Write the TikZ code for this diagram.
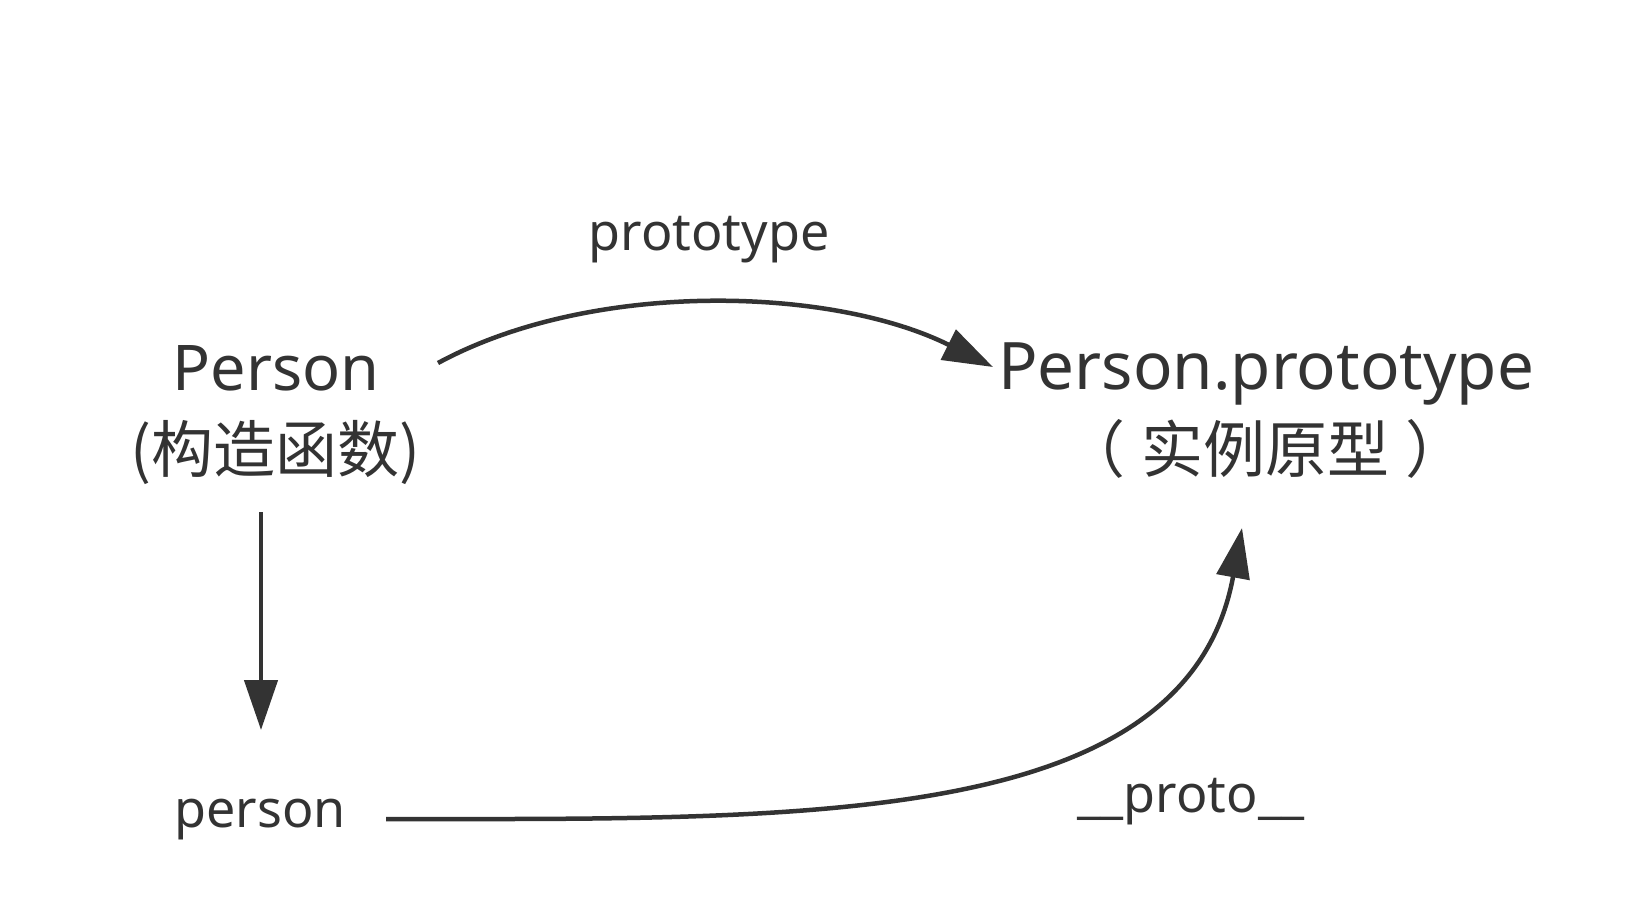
\documentclass[tikz,border=0pt]{standalone}
\usepackage{fontspec}
\setmainfont{Noto Sans}
\newfontfamily\cjk{Noto Sans CJK SC}
\usetikzlibrary{arrows.meta}
\definecolor{ink}{RGB}{51,51,51}
\tikzset{
  lbl/.style={inner sep=0pt, anchor=base, text=ink},
  big/.style={lbl, font=\fontsize{63}{70}\selectfont},
  bigcn/.style={lbl, font=\cjk\fontsize{62}{70}\selectfont},
  small/.style={lbl, font=\fontsize{52}{60}\selectfont},
  conn/.style={draw=ink, line width=4.5pt, -{Triangle[length=50pt,width=33pt]}}
}
\begin{document}
\begin{tikzpicture}[x=1pt,y=-1pt]
\path[use as bounding box, fill=white] (0,0) rectangle (1642,908);
\node[big] (ctor) at (276,390) {Person};
\node[bigcn] (ctorcn) at (275,472) {(构造函数)};
\node[lbl, font=\fontsize{65.5}{70}\selectfont] (proto) at (1266,389) {Person.prototype};
\node[bigcn] (protocn) at (1265,472) {（\hspace{16pt}实例原型\hspace{16pt}）};
\node[small] (inst) at (260,827) {person};
\node[small] (lproto) at (709,250) {prototype};
\node[small] (lunder) at (1191,812) {\_\_proto\_\_};
\draw[conn] ([shift={(162,-27)}]ctor.base) .. controls +(155,-84) and +(-160,-80) .. ([shift={(-273,-22)}]proto.base);
\draw[conn] ([shift={(-14,40)}]ctorcn.base) -- ([shift={(1,-97)}]inst.base);
\draw[conn] ([shift={(126,-8)}]inst.base) .. controls +(420,0) and +(-55,300) .. ([shift={(-23,56)}]protocn.base);
\end{tikzpicture}
\end{document}
